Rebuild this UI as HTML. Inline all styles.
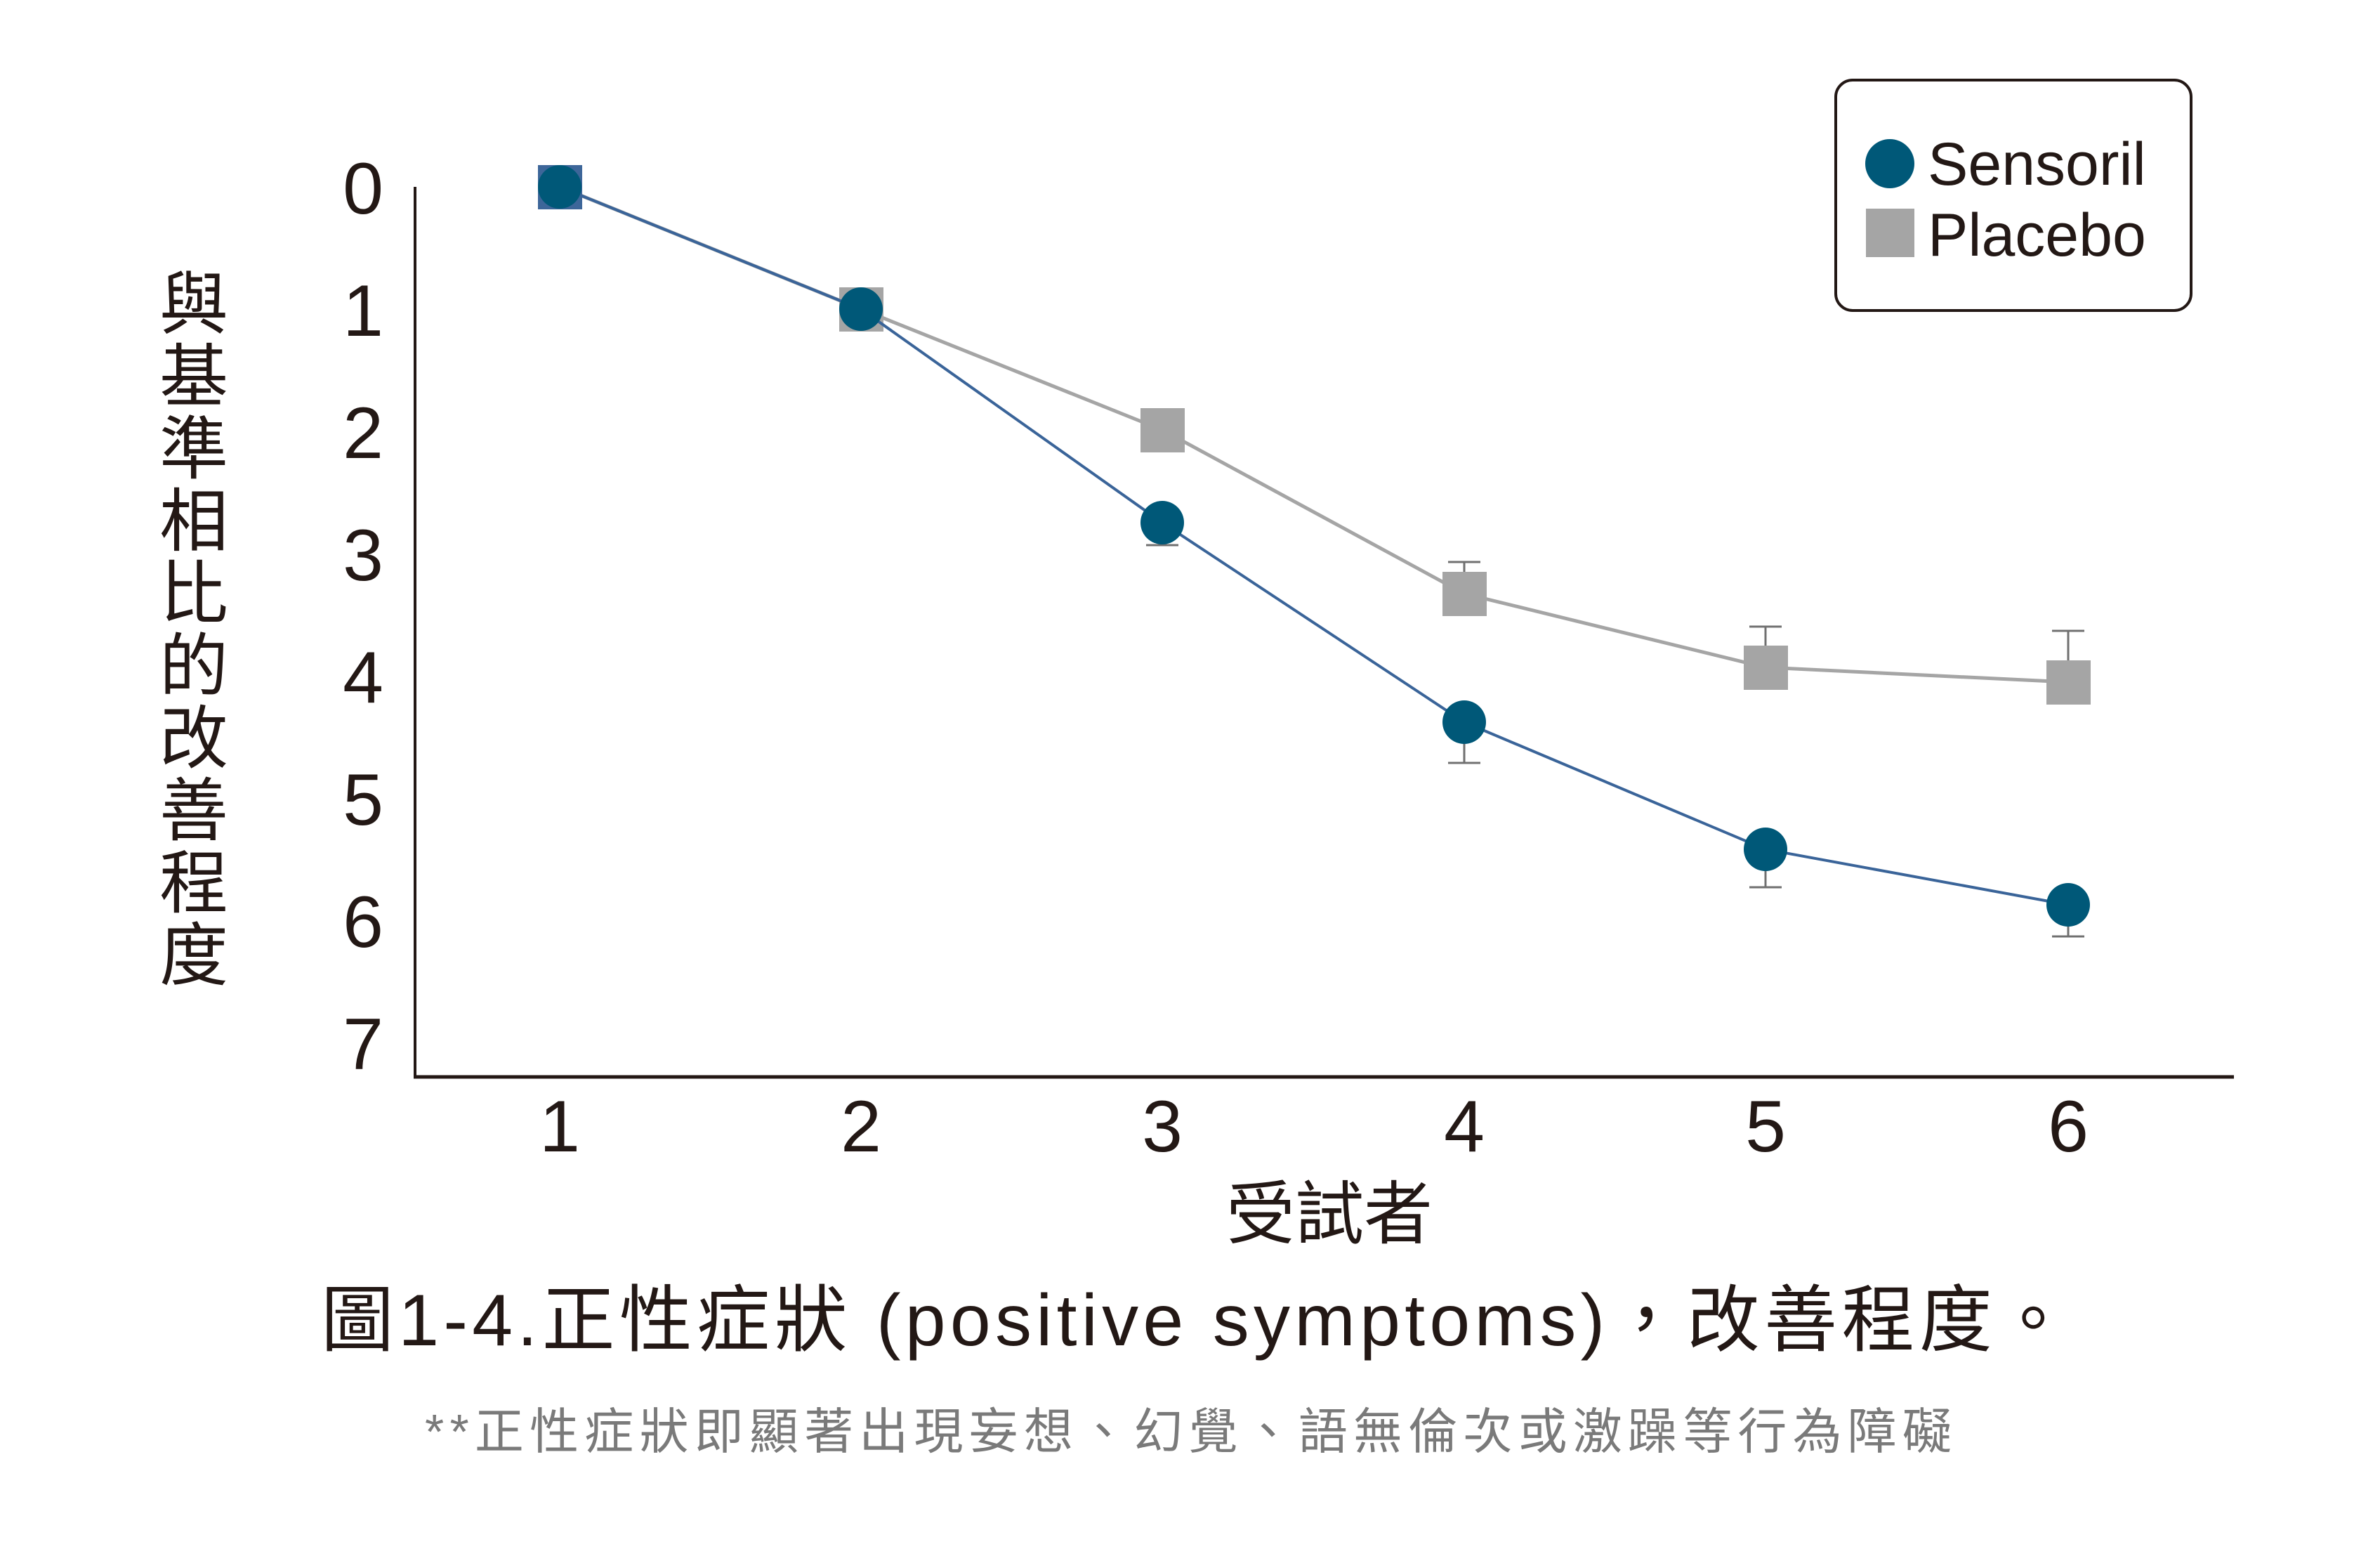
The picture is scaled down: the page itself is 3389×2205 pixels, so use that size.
<!DOCTYPE html>
<html><head><meta charset="utf-8"><style>
html,body{margin:0;padding:0;background:#fff}
svg text{font-family:"Liberation Sans","Noto Sans CJK TC",sans-serif;fill:#231815}
</style></head><body>
<svg width="3389" height="2200" viewBox="0 0 3389 2200" xmlns="http://www.w3.org/2000/svg">
<rect width="3389" height="2200" fill="#fff"/>
<line x1="591" y1="266" x2="591" y2="1535" stroke="#231815" stroke-width="4"/>
<line x1="589" y1="1533" x2="3181" y2="1533" stroke="#231815" stroke-width="5"/>
<g font-size="104" text-anchor="middle">
<text x="517" y="304">0</text>
<text x="517" y="478">1</text>
<text x="517" y="652">2</text>
<text x="517" y="826">3</text>
<text x="517" y="1000">4</text>
<text x="517" y="1174">5</text>
<text x="517" y="1348">6</text>
<text x="517" y="1522">7</text>
</g>
<g font-size="104" text-anchor="middle">
<text x="797" y="1639">1</text>
<text x="1226" y="1639">2</text>
<text x="1655" y="1639">3</text>
<text x="2085" y="1639">4</text>
<text x="2514" y="1639">5</text>
<text x="2945" y="1639">6</text>
</g>
<g font-size="98" text-anchor="middle">
<text x="276" y="467">與</text><text x="276" y="570">基</text><text x="276" y="673">準</text><text x="276" y="776">相</text><text x="276" y="879">比</text><text x="276" y="982">的</text><text x="276" y="1085">改</text><text x="276" y="1188">善</text><text x="276" y="1291">程</text><text x="276" y="1394">度</text>
</g>
<text x="1893" y="1762" font-size="98" text-anchor="middle">受試者</text>
<text x="457" y="1915" font-size="104" textLength="2490" lengthAdjust="spacing">圖1-4.正性症狀 (positive symptoms)，改善程度。</text>
<text x="605" y="2062" font-size="70" textLength="2174" lengthAdjust="spacing" style="fill:#7a7a7a">**正性症狀即顯著出現妄想、幻覺、語無倫次或激躁等行為障礙</text>
<g stroke="#707070" stroke-width="3">
<line x1="2085" y1="845" x2="2085" y2="800"/><line x1="2062" y1="800" x2="2108" y2="800"/>
<line x1="2514" y1="950" x2="2514" y2="892"/><line x1="2491" y1="892" x2="2537" y2="892"/>
<line x1="2945" y1="971" x2="2945" y2="898"/><line x1="2922" y1="898" x2="2968" y2="898"/>
<line x1="1655" y1="744" x2="1655" y2="776"/><line x1="1632" y1="776" x2="1678" y2="776"/>
<line x1="2085" y1="1028" x2="2085" y2="1086"/><line x1="2062" y1="1086" x2="2108" y2="1086"/>
<line x1="2514" y1="1209" x2="2514" y2="1263"/><line x1="2491" y1="1263" x2="2537" y2="1263"/>
<line x1="2945" y1="1288" x2="2945" y2="1333"/><line x1="2922" y1="1333" x2="2968" y2="1333"/>
</g>
<polyline points="797,266 1226,440 1655,612 2085,845 2514,950 2945,971" fill="none" stroke="#a5a5a5" stroke-width="5"/>
<g fill="#a5a5a5">
<rect x="766" y="235" width="63" height="63" fill="#3d6699"/>
<rect x="1195" y="409" width="63" height="63"/>
<rect x="1624" y="581" width="63" height="63"/>
<rect x="2054" y="814" width="63" height="63"/>
<rect x="2483" y="919" width="63" height="63"/>
<rect x="2914" y="940" width="63" height="63"/>
</g>
<polyline points="797,266 1226,440 1655,744 2085,1028 2514,1209 2945,1288" fill="none" stroke="#3a6499" stroke-width="4"/>
<g fill="#005878">
<circle cx="797" cy="266" r="31"/><circle cx="1226" cy="440" r="31"/><circle cx="1655" cy="744" r="31"/>
<circle cx="2085" cy="1028" r="31"/><circle cx="2514" cy="1209" r="31"/><circle cx="2945" cy="1288" r="31"/>
</g>
<rect x="2614" y="114" width="506" height="328" rx="24" fill="#fff" stroke="#231815" stroke-width="4"/>
<circle cx="2691" cy="233" r="35" fill="#005878"/>
<rect x="2657" y="297" width="69" height="69" fill="#a5a5a5"/>
<text x="2745" y="263" font-size="86">Sensoril</text>
<text x="2745" y="364" font-size="86">Placebo</text>
</svg>
</body></html>
